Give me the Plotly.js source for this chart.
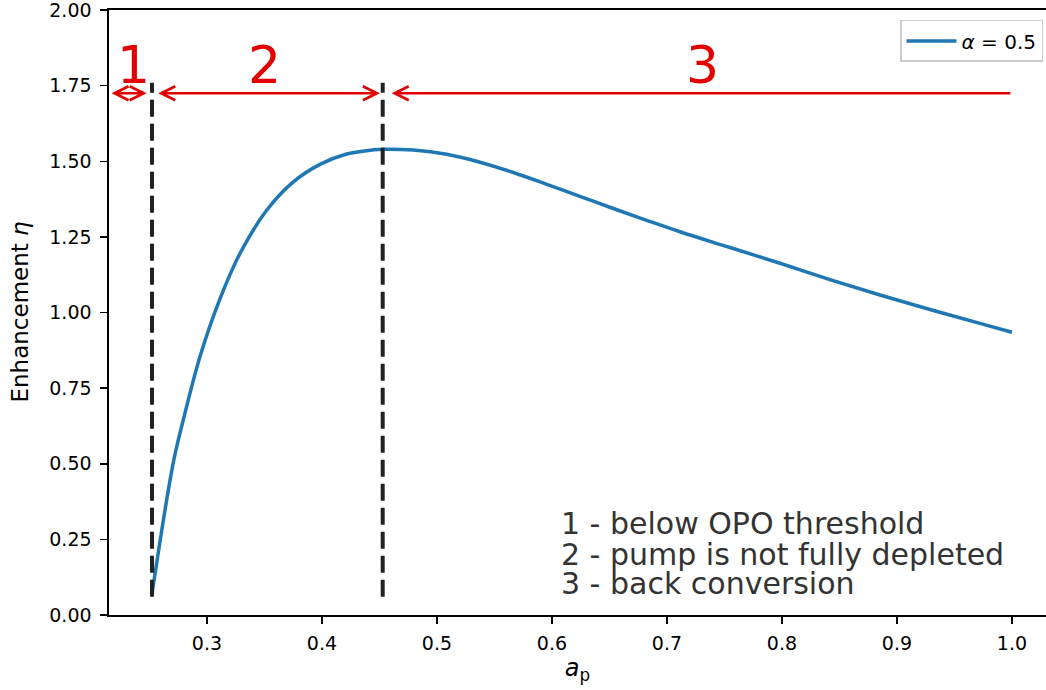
<!DOCTYPE html>
<html>
<head>
<meta charset="utf-8">
<script src="https://cdn.plot.ly/plotly-3.0.1.min.js"></script>
<style>html,body{margin:0;padding:0;background:#fff;}#chart{width:1046px;height:690px;}</style>
</head>
<body>
<div id="chart"></div>
<script>
// Curve data
const ap = [0.2522, 0.2707, 0.2794, 0.2939, 0.3113, 0.3287, 0.3519, 0.3751, 0.3983, 0.4215, 0.4446, 0.4533,
            0.4794, 0.5084, 0.5374, 0.5663, 0.5954, 0.6243, 0.6533, 0.6823, 0.7113, 0.7548, 0.7983, 0.8417,
            0.8852, 0.9287, 0.9722, 1.0];
const eta = [0.07, 0.504, 0.645, 0.854, 1.045, 1.195, 1.338, 1.432, 1.490, 1.524, 1.538, 1.540,
             1.537, 1.523, 1.497, 1.463, 1.424, 1.384, 1.344, 1.305, 1.267, 1.215, 1.163, 1.109,
             1.058, 1.010, 0.964, 0.935];
const seriesName = '<i>α</i> = 0.5';

// Region boundaries and annotations
const boundaries = [0.2522, 0.4528];
const boundaryY = [0.06, 1.76];
const regionLabels = ['1', '2', '3'];
const regionLabelX = [0.2357, 0.3504, 0.7313];
const arrowStart = [0.2157, 0.2563, 1.0];
const arrowEnd = [0.2476, 0.4504, 0.4606];
const arrowSides = ['end+start', 'end+start', 'end'];
const arrowY = 1.725;
const labelY = 1.819;
const legendLines = ['1 - below OPO threshold', '2 - pump is not fully depleted', '3 - back conversion'];
const legendLineY = [0.2949, 0.1934, 0.0965];
const legendLineX = 0.607;

const red = '#e50000';
const font = 'DejaVu Sans, sans-serif';

const trace = {
  x: ap, y: eta, type: 'scatter', mode: 'lines', name: seriesName,
  line: {color: '#1f77b4', width: 3.5, shape: 'spline', smoothing: 1},
  showlegend: true
};

const shapes = boundaries.map(b => ({
  type: 'line', xref: 'x', yref: 'y', x0: b, x1: b, y0: boundaryY[0], y1: boundaryY[1],
  line: {color: '#222222', width: 4, dash: '17px,7px'}, layer: 'above'
}));

const annotations = [];
regionLabels.forEach((t, i) => {
  annotations.push({x: regionLabelX[i], y: labelY, xref: 'x', yref: 'y', text: t, showarrow: false,
    xanchor: 'center', yanchor: 'middle', font: {family: font, size: 52, color: red}});
  annotations.push({x: arrowEnd[i], y: arrowY, ax: arrowStart[i], ay: arrowY, xref: 'x', yref: 'y',
    axref: 'x', ayref: 'y', text: '', showarrow: true, arrowside: arrowSides[i],
    arrowhead: 5, startarrowhead: 5, arrowsize: 1.1, startarrowsize: 1.1, arrowwidth: 2.5, arrowcolor: red,
    standoff: 0, startstandoff: 0});
});
legendLines.forEach((t, i) => {
  annotations.push({x: legendLineX, y: legendLineY[i], xref: 'x', yref: 'y', text: t, showarrow: false,
    xanchor: 'left', yanchor: 'middle', valign: 'bottom', height: 31, borderpad: 0,
    font: {family: font, size: 30, color: '#333333'}});
});
// y-axis title placed as text
annotations.push({x: 0, y: 0.5, xref: 'paper', yref: 'paper', xshift: -90, text: 'Enhancement <i>η</i>',
  textangle: -90, showarrow: false, xanchor: 'center', yanchor: 'middle',
  font: {family: font, size: 23, color: '#000000'}});

const layout = {
  width: 1046, height: 690,
  margin: {l: 109, r: 0, t: 10, b: 75, pad: 0},
  paper_bgcolor: '#ffffff', plot_bgcolor: '#ffffff',
  font: {family: font, color: '#000000'},
  showlegend: true,
  legend: {x: 0.9968, y: 0.9835, xanchor: 'right', yanchor: 'top', bgcolor: '#ffffff',
    bordercolor: '#cccccc', borderwidth: 1.5, itemwidth: 50,
    font: {family: font, size: 20, color: '#000000'}},
  xaxis: {
    range: [0.2148, 1.0296], showgrid: false, zeroline: false,
    showline: true, linecolor: '#000000', linewidth: 1.6, mirror: true,
    ticks: 'outside', ticklen: 7, tickwidth: 1.6, tickcolor: '#000000',
    tick0: 0, dtick: 0.1, tickformat: '.1f', ticklabelstandoff: 4,
    tickfont: {family: font, size: 19, color: '#000000'},
    title: {text: '<i>a</i><sub>p</sub>', font: {family: font, size: 24, color: '#000000'}, standoff: 6}
  },
  yaxis: {
    range: [0, 2.0002], showgrid: false, zeroline: false,
    showline: true, linecolor: '#000000', linewidth: 1.6,
    ticks: 'outside', ticklen: 7, tickwidth: 1.6, tickcolor: '#000000',
    tick0: 0, dtick: 0.25, tickformat: '.2f', ticklabelstandoff: 5, ticklabeloverflow: 'allow',
    tickfont: {family: font, size: 19, color: '#000000'}
  },
  shapes: shapes,
  annotations: annotations
};

Plotly.newPlot('chart', [trace], layout, {staticPlot: true, displayModeBar: false});
</script>
</body>
</html>
